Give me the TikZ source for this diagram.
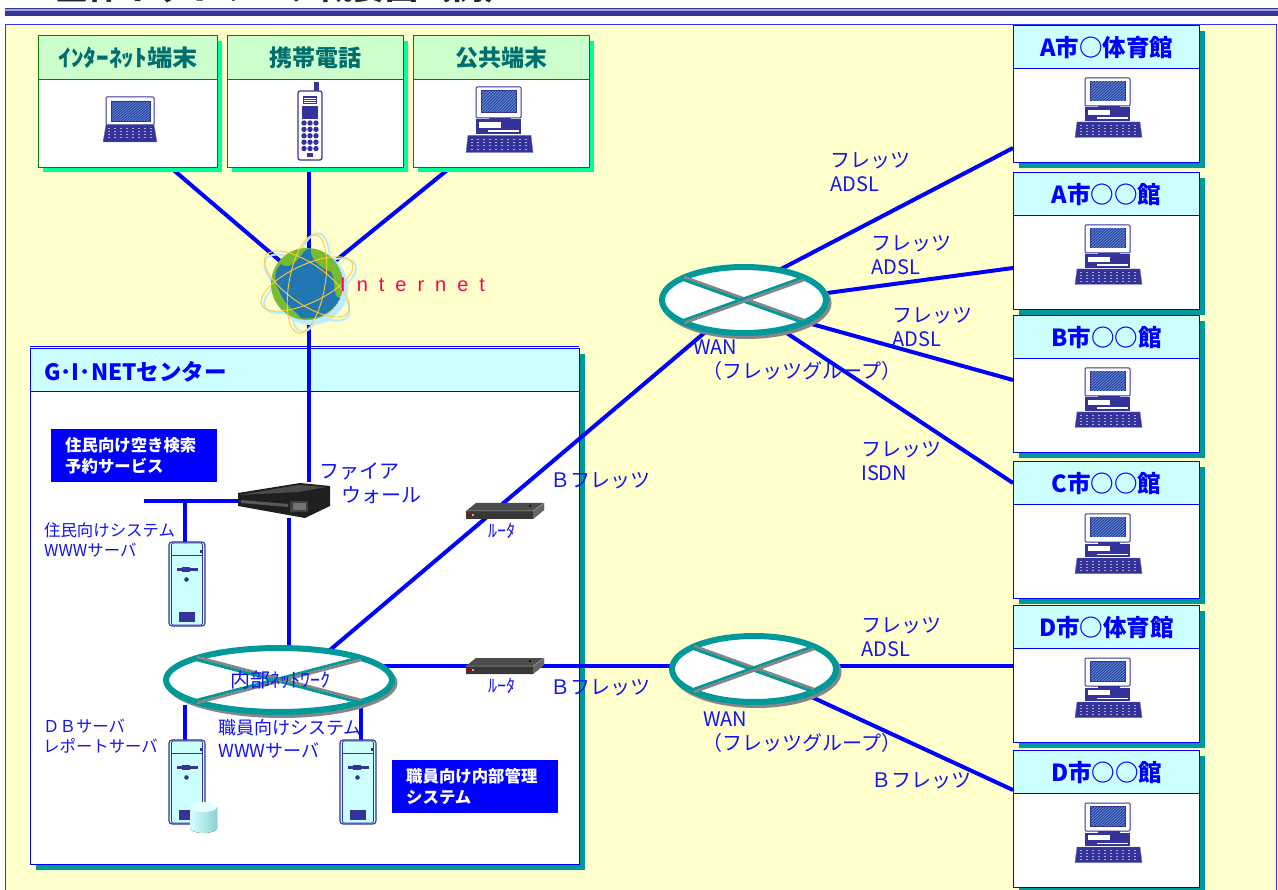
\documentclass[tikz,border=0pt]{standalone}
\usepackage{fontspec}
\setmainfont{Noto Sans CJK JP}
\newfontfamily\netfont[LetterSpace=55]{Liberation Sans}
\usetikzlibrary{calc}
\pgfdeclarelayer{backdrop}
\pgfdeclarelayer{wires}
\pgfsetlayers{backdrop,wires,main}
\definecolor{panelY}{HTML}{FFFFCC}
\definecolor{lineB}{HTML}{0000FF}
\definecolor{teal2}{HTML}{009999}
\definecolor{mint}{HTML}{00FF99}
\definecolor{navy2}{HTML}{333399}
\definecolor{cyanH}{HTML}{CCFFFF}
\definecolor{greenH}{HTML}{CCFFCC}
\definecolor{greenE}{HTML}{008000}
\definecolor{tealT}{HTML}{006E6E}
\definecolor{labelB}{HTML}{1414F0}
\definecolor{grayN}{HTML}{868686}
\definecolor{pinkN}{HTML}{FF0055}
\definecolor{HTMLblue}{HTML}{2277B3}
\definecolor{landG}{HTML}{77BB33}
\definecolor{orbitY}{HTML}{FFCC33}
\tikzset{
  wire/.style={draw=lineB,line width=4pt},
  holder/.style={inner sep=0pt,outer sep=0pt,rectangle},
  lbl/.style={text=labelB,anchor=west,align=left,inner sep=0pt,font=\fontsize{20}{24}\selectfont},
  lblsmall/.style={lbl,font=\fontsize{16.4}{20.5}\selectfont},
  lblmid/.style={lbl,font=\fontsize{18}{23}\selectfont},
  whitebox/.style={fill=lineB,text=white,anchor=north west,inner sep=0pt,align=left,font=\bfseries\fontsize{16.4}{21}\selectfont,text width=166pt,minimum height=53pt},
  icon/.style={draw=navy2,line width=1pt,fill=white},
  pics/desktop/.style={code={
    \draw[icon,rounded corners=1pt] (-21,0) rectangle (24,28);
    \fill[navy2] (-16,3) rectangle (20,23.5);
    \begin{scope}
      \clip (-15.5,3.5) rectangle (19,23);
      \fill[cyan!60!blue!70] (-15.5,3.5) rectangle (19,23);
      \foreach \k in {-36,-33,...,20} \draw[navy2,line width=.9pt] (\k,23) -- (\k+22,3);
    \end{scope}
    \fill[navy2] (-8,28) rectangle (14,30);
    \fill[navy2] (-21,29.5) rectangle (24,43);
    \fill[white] (-18,32) rectangle (4,37);
    \fill[white] (-9,39.5) rectangle (22,41);
    \fill[navy2,draw=navy2!70!white] (-29,44) -- (34,44) -- (36,59.5) -- (-31,59.5) -- cycle;
    \foreach \r in {47,50,53,56} \foreach \c in {-26,-20,...,30}
      \fill[white!60!navy2] (\c,\r) rectangle +(2.2,1);
  }},
  pics/laptop/.style={code={
    \draw[icon,rounded corners=1pt] (-24,0) rectangle (24,28);
    \begin{scope}
      \clip (-19,4) rectangle (20,24);
      \fill[cyan!60!blue!70] (-19,4) rectangle (20,24);
      \foreach \k in {-42,-39,...,20} \draw[navy2,line width=.9pt] (\k,24) -- (\k+24,4);
    \end{scope}
    \draw[navy2,line width=.8pt] (-19,4) rectangle (20,24);
    \fill[navy2,draw=navy2!70!white] (-24,28) -- (24,28) -- (27,45) -- (-27,45) -- cycle;
    \foreach \r in {31,34,37,40} \foreach \c in {-22,-16,...,20}
      \fill[white!60!navy2] (\c,\r) rectangle +(2.2,1);
  }},
  pics/handset/.style={code={
    \fill[navy2] (4,0) rectangle (9,10);
    \draw[icon,rounded corners=2pt,line width=1.2pt] (-12,9) rectangle (12,78);
    \fill[navy2] (-7,14) rectangle (7,22);
    \foreach \r in {16,18,20} \draw[white,line width=.5pt] (-6,\r) -- (6,\r);
    \fill[navy2] (-8,24) rectangle (8,37);
    \foreach \r in {0,1,2,3,4} \foreach \c in {-6,0,6}
      \fill[navy2] (\c,41+\r*6.4) circle (2.7pt);
    \fill[navy2] (-3,71) rectangle (3,75);
  }},
  pics/tower/.style={code={
    \draw[draw=navy2,line width=1.1pt,fill=cyanH,rounded corners=3pt] (0,0) rectangle (36,84);
    \draw[navy2,line width=.7pt,rounded corners=2pt] (2.5,1) rectangle (33.5,83);
    \draw[navy2,line width=1pt] (3,13) -- (33,13);
    \fill[navy2] (31,8) rectangle (33,11);
    \fill[navy2] (8,26) rectangle (29,28.5);
    \fill[navy2] (13,24.5) rectangle (21,30);
    \fill[navy2] (17.5,37.5) circle (2.3pt);
    \fill[navy2] (10,70) rectangle (26,80);
  }},
  pics/routerbox/.style={code={
    \fill[black!70] (1,9) -- (11,1) -- (79,1) -- (79,8) -- (68,17) -- (1,17) -- cycle;
    \fill[black!78] (1,9) -- (68,9) -- (68,17) -- (1,17) -- cycle;
    \fill[black!60] (68,9) -- (79,1) -- (79,8) -- (68,17) -- cycle;
    \draw[black!35,line width=.5pt] (1,9) -- (68,9) -- (79,1);
    \fill[red!70!black] (3,12) rectangle (6,14);
    \fill[white!70!black] (7,12) rectangle (9,14);
    \fill[black] (65,4) circle (1.2pt);
  }},
  pics/firebox/.style={code={
    \fill[black!88] (0,10) -- (62,0) -- (92,3) -- (92,23) -- (67,35) -- (0,23) -- cycle;
    \fill[black!70] (2,12) -- (60,2) -- (88,4) -- (60,9) -- cycle;
    \fill[black!75] (52,18) rectangle (70,29);
    \fill[black!55] (55,20) rectangle (68,27);
    \fill[black!65] (3,17) -- (50,21) -- (50,24) -- (3,20) -- cycle;
  }},
  pics/netring/.style n args={4}{code={
    \fill[grayN] (2.5,3) ellipse ({#1pt} and {#2pt});
    \draw[teal2,fill=white,line width=6pt] (0,0) ellipse ({#1pt-3pt} and {#2pt-3pt});
    \draw[grayN,line width=2.8pt] (-#3,-#4-1.4) -- (#3,#4-1.4);
    \draw[teal2,line width=2.8pt] (-#3,-#4+1.4) -- (#3,#4+1.4);
    \draw[teal2,line width=2.8pt] (-#3,#4-1.4) -- (#3,-#4-1.4);
    \draw[grayN,line width=2.8pt] (-#3,#4+1.4) -- (#3,-#4+1.4);
  }},
  pics/earth/.style={code={
    \foreach \a/\rx/\ry in {25/50/19,-35/50/20,80/50/18}{
      \draw[cyan!25,line width=2pt,rotate=\a,shift={(2,3)}] (0,0) ellipse ({\rx pt} and {\ry pt});
    }
    \fill[cyan!25] (4,4) circle (37pt);
    \begin{scope}
      \clip (0,0) circle (36pt);
      \fill[landG] (0,0) circle (36pt);
      \fill[HTMLblue] (-26,-20) .. controls (-12,-10) and (-6,-36) .. (4,-36)
        .. controls (2,-24) and (14,-16) .. (24,-12) .. controls (30,-2) and (24,14) .. (34,14)
        .. controls (24,30) and (10,36) .. (-6,34) .. controls (-14,24) and (-22,22) .. (-28,6)
        .. controls (-34,-4) and (-32,-14) .. (-26,-20) -- cycle;
    \end{scope}
    \foreach \a/\rx/\ry in {25/50/19,-35/50/20,80/50/18}{
      \draw[orbitY,line width=.9pt,rotate=\a] (0,0) ellipse ({\rx pt} and {\ry pt});
    }
  }},
}
% top card: name, left, right, title
\newcommand{\topcard}[4]{%
  \fill[mint] (#2+5,41) rectangle (#3+5,172);
  \node[draw=greenE,line width=1.2pt,fill=white,anchor=north west,inner sep=0pt,minimum width=#3pt-#2pt,minimum height=132pt] (#1) at (#2,35) {};
  \node[draw=greenE,line width=1.2pt,fill=greenH,anchor=north west,inner sep=0pt,minimum width=#3pt-#2pt,minimum height=44pt,text=tealT,font=\bfseries\fontsize{23}{26}\selectfont] (#1h) at (#2,35) {\raisebox{-1pt}{#4}};
}
% right card: name, top, title
\newcommand{\sitecard}[3]{%
  \fill[teal2] (1019,#2+6) rectangle (1205,#2+143);
  \node[draw=lineB,line width=1.2pt,fill=white,anchor=north west,inner sep=0pt,minimum width=186pt,minimum height=137pt] (#1) at (1013,#2) {};
  \node[draw=lineB,line width=1.2pt,fill=cyanH,anchor=north west,inner sep=0pt,minimum width=186pt,minimum height=43pt,text=lineB,font=\bfseries\fontsize{23.5}{26}\selectfont] (#1h) at (1013,#2) {\raisebox{-2pt}{#3}};
  \pic at (1106,#2+53) {desktop};
}
\begin{document}
\begin{tikzpicture}[x=1pt,y=-1pt]
\useasboundingbox (0,0) rectangle (1278,890);

\begin{pgfonlayer}{backdrop}
 \begin{scope}
  \clip (0,0) rectangle (1278,890);
  \fill[white] (0,0) rectangle (1278,890);
  % title and rule
  \node[anchor=west,inner sep=0pt,text=black!85,font=\bfseries\fontsize{33}{36}\selectfont] (title) at (55,-13) {全体ネットワーク概要図（例）};
  \fill[navy2] (5,8) rectangle (1278,16.5);
  \fill[navy2!45!white] (5,9.5) rectangle (1278,11.5);
  % panel
  \draw[draw=blue!80!white,line width=1pt,fill=panelY] (5,25) rectangle (1276,900);
  % centre box
  \fill[teal2] (36,354) rectangle (585,870);
  \node[draw=lineB,line width=1pt,fill=white,anchor=north west,inner sep=0pt,minimum width=549pt,minimum height=516pt] (centre) at (30,348) {};
  \draw[lineB,line width=.7pt] (30,346.5) -- (579,346.5);
  \node[draw=lineB,line width=1pt,fill=cyanH,anchor=north west,inner sep=0pt,minimum width=549pt,minimum height=43pt] (centreh) at (30,348) {};
  \node[anchor=west,inner sep=0pt,text=lineB,font=\bfseries\fontsize{22.5}{24}\selectfont] (centret) at (44,372) {G･I･NETセンター};
 \end{scope}
\end{pgfonlayer}

\clip (0,0) rectangle (1278,890);
% cards
\topcard{tA}{38}{217}{\scalebox{1.1}[1]{ｲﾝﾀｰﾈｯﾄ端末}}
\topcard{tB}{227}{403}{携帯電話}
\topcard{tC}{413}{589}{公共端末}
\pic at (130,97) {laptop};
\pic at (310,82) {handset};
\pic[yscale=1.1] at (497,87) {desktop};

\sitecard{s1}{25}{A市○体育館}
\sitecard{s2}{172}{A市○○館}
\sitecard{s3}{315}{B市○○館}
\sitecard{s4}{461}{C市○○館}
\sitecard{s5}{605}{D市○体育館}
\sitecard{s6}{750}{D市○○館}

% device holders
\node[holder,minimum width=72pt,minimum height=72pt] (inet) at (307,284) {};
\node[holder,minimum width=92pt,minimum height=36pt] (fw) at (284,500) {};
\node[holder,minimum width=36pt,minimum height=84pt] (srvA) at (187,584) {};
\node[holder,minimum width=36pt,minimum height=84pt] (srvB) at (187,782) {};
\node[holder,minimum width=36pt,minimum height=84pt] (srvC) at (358,782) {};
\node[holder,minimum width=79pt,minimum height=17pt] (rtA) at (504.5,510) {};
\node[holder,minimum width=79pt,minimum height=17pt] (rtB) at (504.5,665) {};
\node[holder,minimum width=232pt,minimum height=71pt] (lan) at (279,680) {};
\node[holder,minimum width=172pt,minimum height=72pt] (wanA) at (744,300) {};
\node[holder,minimum width=172pt,minimum height=72pt] (wanB) at (754,669) {};

% connector ends
\coordinate (tAo) at (170,167);
\coordinate (tBo) at (309,167);
\coordinate (tCo) at (451,167);
\coordinate (fwin) at (309,482);
\coordinate (fwstub) at (144,501);
\coordinate (fwleft) at (238,501);
\coordinate (fwdn) at (289,518);
\coordinate (lantop) at (289,650);
\coordinate (busA) at (185,501);
\coordinate (srvAt) at (185,543);
\coordinate (lanB) at (185,705);
\coordinate (srvBt) at (185,742);
\coordinate (lanC) at (361,705);
\coordinate (srvCt) at (361,742);
\coordinate (lanUp) at (330,650);
\coordinate (wanAin) at (716,323);
\coordinate (lanR) at (380,666);
\coordinate (wanBin) at (680,666);
\coordinate (a1) at (760,280);
\coordinate (e1) at (1013,148);
\coordinate (a2) at (790,298);
\coordinate (e2) at (1013,268);
\coordinate (a3) at (790,318);
\coordinate (e3) at (1013,380);
\coordinate (a4) at (770,322);
\coordinate (e4) at (1013,483);
\coordinate (b1) at (830,666);
\coordinate (e5) at (1013,666);
\coordinate (b2) at (790,687);
\coordinate (e6) at (1013,790);

\begin{pgfonlayer}{wires}
 \begin{scope}
  \clip (0,0) rectangle (1278,890);
  \draw[wire] (tAo) -- (inet.center);
  \draw[wire] (tBo) -- (fwin);
  \draw[wire] (tCo) -- (inet.center);
  \draw[wire] (fwleft) -- (fwstub);
  \draw[wire,line width=3.4pt] (busA) -- (srvAt);
  \draw[wire] (fwdn) -- (lantop);
  \draw[wire] (lanB) -- (srvBt);
  \draw[wire] (lanC) -- (srvCt);
  \draw[wire] (lanUp) -- (wanAin);
  \draw[wire] (lanR) -- (wanBin);
  \draw[wire] (a1) -- (e1);
  \draw[wire] (a2) -- (e2);
  \draw[wire] (a3) -- (e3);
  \draw[wire] (a4) -- (e4);
  \draw[wire] (b1) -- (e5);
  \draw[wire] (b2) -- (e6);
 \end{scope}
\end{pgfonlayer}

% devices
\pic at (inet) {earth};
\node[anchor=west,inner sep=0pt,text=pinkN,font=\netfont\fontsize{20}{24}\selectfont] (inettxt) at (340,285) {Internet};
\pic at (238,483) {firebox};
\pic at (169,542) {tower};
\pic at (169,740) {tower};
\pic at (340,740) {tower};
% database cylinder
\fill[left color=cyanH!80!white,right color=teal2!45!white] (190,807) -- (190,828) arc[start angle=180,end angle=360,x radius=13.5pt,y radius=5pt] -- (217,807) -- cycle;
\fill[cyanH!50!white] (203.5,807) ellipse (13.5pt and 5pt);
\pic at (465,502) {routerbox};
\pic at (465,657) {routerbox};
\pic at (lan) {netring={116}{35}{82}{21.5}};
\pic at (wanA) {netring={85}{36}{60}{21.5}};
\pic at (wanB) {netring={85}{36}{60}{21.5}};

% blue caption boxes
\node[whitebox] (capA) at (51,429) {\hspace*{14pt}住民向け空き検索\\\hspace*{14pt}予約サービス};
\node[whitebox] (capB) at (392,760) {\hspace*{14pt}職員向け内部管理\\\hspace*{14pt}システム};

% labels
\node[lbl] at (830,172) {フレッツ\\ADSL};
\node[lbl] at (871,255) {フレッツ\\ADSL};
\node[lbl] at (892,327) {フレッツ\\ADSL};
\node[lbl] at (861,461) {フレッツ\\ISDN};
\node[lbl] at (861,637) {フレッツ\\ADSL};
\node[lbl] at (871,781) {Ｂフレッツ};
\node[lbl] at (550,481) {Ｂフレッツ};
\node[lbl] at (550,688) {Ｂフレッツ};
\node[lbl] at (693,347) {WAN};
\node[lbl] at (702,371) {（フレッツグループ）};
\node[lbl] at (703,719) {WAN};
\node[lbl] at (702,743) {（フレッツグループ）};
\node[lbl] at (319,471) {ファイア};
\node[lbl] at (341,495) {ウォール};
\node[lblsmall] at (44,540) {住民向けシステム\\WWWサーバ};
\node[lblsmall] at (43,736) {ＤＢサーバ\\レポートサーバ};
\node[lblmid] at (218,739) {職員向けシステム\\WWWサーバ};
\node[lbl,inner sep=0pt,anchor=center] at (280,680) {内部ﾈｯﾄﾜｰｸ};
\node[lblmid,anchor=center] at (502,531) {ﾙｰﾀ};
\node[lblmid,anchor=center] at (502,686) {ﾙｰﾀ};
\end{tikzpicture}
\end{document}
